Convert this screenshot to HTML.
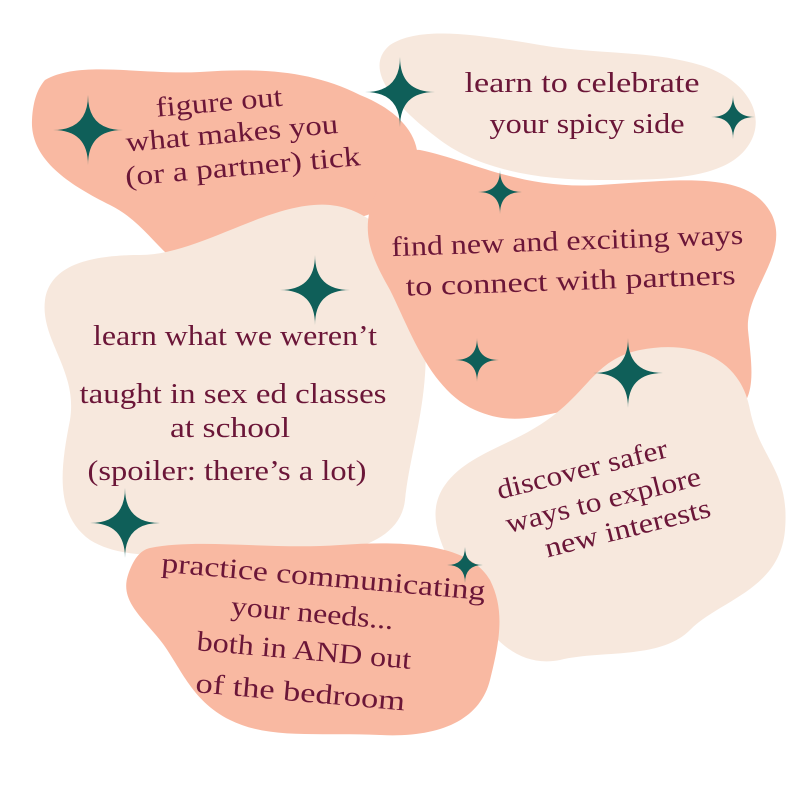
<!DOCTYPE html>
<html><head><meta charset="utf-8"><style>
html,body{margin:0;padding:0;background:#fff;}
svg{display:block}
text{font-family:"Liberation Serif",serif;fill:#6B1638;font-size:28px;text-anchor:middle;}
</style></head><body>
<svg width="800" height="800" viewBox="0 0 800 800">
<path fill="#F9B9A2" d="M45,80 C80,60 140,75 200,72 C260,68 310,70 360,95 C410,115 430,150 410,185 C385,225 330,215 300,240 C270,270 240,290 200,275 C160,260 150,225 110,205 C70,185 30,160 32,120 C33,100 38,88 45,80 Z"/>
<path fill="#F7E8DD" d="M330,205 C380,210 420,260 425,330 C430,400 410,450 405,500 C400,545 340,560 260,555 C190,550 130,565 90,540 C55,515 60,470 70,420 C78,370 40,340 45,300 C50,265 90,255 140,255 C200,255 270,200 330,205 Z"/>
<path fill="#F7E8DD" d="M390,45 C420,25 480,35 540,45 C600,55 650,50 700,65 C750,80 770,120 745,150 C720,180 660,180 600,180 C540,180 480,170 440,140 C400,110 360,70 390,45 Z"/>
<path fill="#F9B9A2" d="M420,150 C470,160 520,190 600,185 C680,180 750,170 772,215 C790,255 745,290 748,330 C752,370 760,410 720,418 C680,425 640,400 600,405 C550,410 520,430 475,410 C430,390 410,330 390,290 C370,255 360,230 375,195 C385,170 400,148 420,150 Z"/>
<path fill="#F7E8DD" d="M640,350 C690,340 740,355 750,410 C760,460 790,470 785,530 C780,590 720,600 690,630 C660,660 600,650 560,660 C520,668 490,640 470,600 C450,560 420,520 445,485 C470,450 520,445 560,410 C590,385 600,358 640,350 Z"/>
<path fill="#F9B9A2" d="M150,548 C200,538 270,550 340,545 C410,540 470,545 490,580 C505,610 500,640 490,680 C480,720 440,738 380,735 C320,732 270,740 230,720 C190,700 180,665 160,640 C140,615 120,600 128,575 C133,560 140,550 150,548 Z"/>

<g fill="#0F5F59">
<path d="M88,95 Q88,130 123,130 Q88,130 88,165 Q88,130 53,130 Q88,130 88,95 Z"/>
<path d="M400,57 Q400,92 435,92 Q400,92 400,127 Q400,92 365,92 Q400,92 400,57 Z"/>
<path d="M733,95 Q733,117 755,117 Q733,117 733,139 Q733,117 711,117 Q733,117 733,95 Z"/>
<path d="M500,170 Q500,192 522,192 Q500,192 500,214 Q500,192 478,192 Q500,192 500,170 Z"/>
<path d="M315,255 Q315,290 350,290 Q315,290 315,325 Q315,290 280,290 Q315,290 315,255 Z"/>
<path d="M477,338 Q477,360 499,360 Q477,360 477,382 Q477,360 455,360 Q477,360 477,338 Z"/>
<path d="M628,338 Q628,373 663,373 Q628,373 628,408 Q628,373 593,373 Q628,373 628,338 Z"/>
<path d="M125,488 Q125,523 160,523 Q125,523 125,558 Q125,523 90,523 Q125,523 125,488 Z"/>
<path d="M465,547 Q465,565 483,565 Q465,565 465,583 Q465,565 447,565 Q465,565 465,547 Z"/>
</g>

<g transform="rotate(-5 235 135)">
<text x="222" y="110" textLength="127" lengthAdjust="spacingAndGlyphs">figure out</text>
<text x="232" y="142" textLength="213" lengthAdjust="spacingAndGlyphs">what makes you</text>
<text x="240" y="176" textLength="236" lengthAdjust="spacingAndGlyphs">(or a partner) tick</text>
</g>
<text x="582" y="92" textLength="235" lengthAdjust="spacingAndGlyphs">learn to celebrate</text>
<text x="587" y="133" textLength="195" lengthAdjust="spacingAndGlyphs">your spicy side</text>
<g transform="rotate(-2 568 263)">
<text x="568" y="250" textLength="352" lengthAdjust="spacingAndGlyphs">find new and exciting ways</text>
<text x="570" y="290" textLength="330" lengthAdjust="spacingAndGlyphs">to connect with partners</text>
</g>
<text x="235" y="345" textLength="284" lengthAdjust="spacingAndGlyphs">learn what we weren’t</text>
<text x="233" y="403" textLength="307" lengthAdjust="spacingAndGlyphs">taught in sex ed classes</text>
<text x="230" y="437" textLength="120" lengthAdjust="spacingAndGlyphs">at school</text>
<text x="227" y="480" textLength="279" lengthAdjust="spacingAndGlyphs">(spoiler: there’s a lot)</text>
<g transform="rotate(-14 600 500)">
<text x="590" y="475" textLength="175" lengthAdjust="spacingAndGlyphs">discover safer</text>
<text x="603" y="510" textLength="200" lengthAdjust="spacingAndGlyphs">ways to explore</text>
<text x="620" y="543" textLength="170" lengthAdjust="spacingAndGlyphs">new interests</text>
</g>
<g transform="rotate(5 310 640)">
<text x="318" y="585" textLength="325" lengthAdjust="spacingAndGlyphs">practice communicating</text>
<text x="310" y="622" textLength="163" lengthAdjust="spacingAndGlyphs">your needs...</text>
<text x="305" y="660" textLength="215" lengthAdjust="spacingAndGlyphs">both in AND out</text>
<text x="305" y="702" textLength="210" lengthAdjust="spacingAndGlyphs">of the bedroom</text>
</g>
</svg>
</body></html>
